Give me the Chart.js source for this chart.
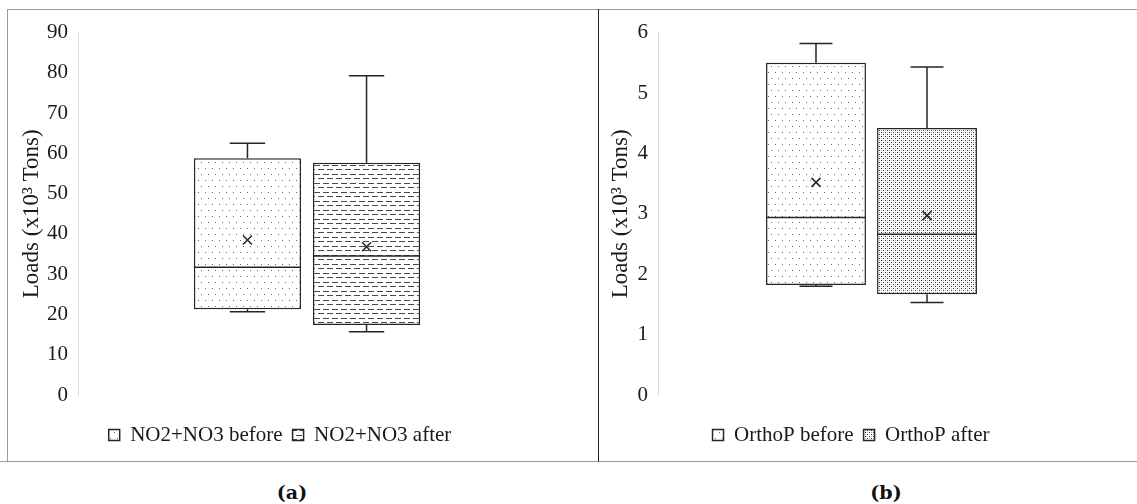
<!DOCTYPE html>
<html>
<head>
<meta charset="utf-8">
<script src="https://cdn.jsdelivr.net/npm/chart.js@4.4.0/dist/chart.umd.min.js"></script>
<style>
  html, body { margin: 0; padding: 0; background: #fff; }
  body { width: 1137px; height: 504px; position: relative; overflow: hidden; }
  canvas { position: absolute; }
  .line { position: absolute; }
  .cap { position: absolute; font-family: "DejaVu Serif", "Liberation Serif", serif; font-weight: bold; font-size: 19px; color: #111; transform: translate(-50%, -50%); white-space: nowrap; }
</style>
</head>
<body>
<div class="line" style="left:7px; top:9px; width:1130px; height:1px; background:#9a9a9a;"></div>
<div class="line" style="left:7px; top:9px; width:1px; height:453px; background:#9a9a9a;"></div>
<div class="line" style="left:0px; top:461px; width:1137px; height:1px; background:#9a9a9a;"></div>
<div class="line" style="left:598px; top:9px; width:1px; height:453px; background:#222;"></div>
<canvas id="chartA" width="590" height="451" style="left:8px; top:10px; width:590px; height:451px;"></canvas>
<canvas id="chartB" width="538" height="451" style="left:599px; top:10px; width:538px; height:451px;"></canvas>
<div class="cap" style="left:292px; top:492px;">(<span>a</span>)</div>
<div class="cap" style="left:886px; top:492px;">(<span>b</span>)</div>
<script>
// ---- Data ----
const seriesA = ['NO2+NO3 before', 'NO2+NO3 after'];
const minA  = [20.7, 15.7];
const q1A   = [21.3, 17.4];
const medA  = [31.7, 34.5];
const q3A   = [58.8, 57.7];
const maxA  = [62.5, 79.3];
const meanA = [38.5, 36.8];
const ticksA = [0, 10, 20, 30, 40, 50, 60, 70, 80, 90];

const seriesB = ['OrthoP before', 'OrthoP after'];
const minB  = [1.80, 1.53];
const q1B   = [1.82, 1.67];
const medB  = [2.94, 2.66];
const q3B   = [5.50, 4.42];
const maxB  = [5.82, 5.43];
const meanB = [3.52, 2.97];
const ticksB = [0, 1, 2, 3, 4, 5, 6];

const yTitle = 'Loads (x10\u00B3 Tons)';

// ---- Patterns ----
function makePattern(kind) {
  const c = document.createElement('canvas');
  const g = c.getContext('2d');
  if (kind === 'dots') {
    c.width = 7; c.height = 12;
    g.fillStyle = '#fff'; g.fillRect(0, 0, 7, 12);
    g.fillStyle = '#6a6a6a';
    g.fillRect(1, 2, 1, 1);
    g.fillRect(4, 8, 1, 1);
  } else if (kind === 'dashes') {
    c.width = 9; c.height = 9;
    g.fillStyle = '#fff'; g.fillRect(0, 0, 9, 9);
    g.fillStyle = '#4a4a4a';
    g.fillRect(0, 2, 6, 1);
    g.fillRect(4, 6, 5, 1);
    g.fillRect(0, 6, 1, 1);
  } else if (kind === 'dense') {
    c.width = 4; c.height = 4;
    g.fillStyle = '#fff'; g.fillRect(0, 0, 4, 4);
    g.fillStyle = '#3a3a3a';
    g.fillRect(0, 0, 1, 1);
    g.fillRect(2, 2, 1, 1);
    g.fillStyle = '#b8b8b8';
    g.fillRect(2, 0, 1, 1);
    g.fillRect(0, 2, 1, 1);
  }
  return g.createPattern(c, 'repeat');
}

const INK = '#262626';
const FONT = 'Liberation Serif';

// ---- Box plot extras: whiskers, medians, means drawn through the scales ----
const boxExtras = {
  id: 'boxExtras',
  afterDatasetsDraw(chart) {
    const st = chart.options.plugins.boxExtras;
    const y = chart.scales.y;
    const ctx = chart.ctx;
    ctx.save();
    ctx.strokeStyle = INK;
    ctx.lineWidth = 1.5;
    chart.data.datasets.forEach((ds, i) => {
      const bar = chart.getDatasetMeta(i).data[0];
      const x = bar.x, w = bar.width;
      const left = x - w / 2, right = x + w / 2;
      const yMin = y.getPixelForValue(st.min[i]);
      const yQ1 = y.getPixelForValue(st.q1[i]);
      const yMed = y.getPixelForValue(st.med[i]);
      const yQ3 = y.getPixelForValue(st.q3[i]);
      const yMax = y.getPixelForValue(st.max[i]);
      const yMean = y.getPixelForValue(st.mean[i]);
      const cap = w * 0.165;
      ctx.beginPath();
      ctx.moveTo(x, yQ3); ctx.lineTo(x, yMax);
      ctx.moveTo(x - cap, yMax); ctx.lineTo(x + cap, yMax);
      ctx.moveTo(x, yQ1); ctx.lineTo(x, yMin);
      ctx.moveTo(x - cap, yMin); ctx.lineTo(x + cap, yMin);
      ctx.moveTo(left, yMed); ctx.lineTo(right, yMed);
      ctx.stroke();
      const m = 4.5;
      ctx.beginPath();
      ctx.moveTo(x - m, yMean - m); ctx.lineTo(x + m, yMean + m);
      ctx.moveTo(x - m, yMean + m); ctx.lineTo(x + m, yMean - m);
      ctx.stroke();
    });
    ctx.restore();
  }
};

function buildChart(id, series, mins, q1s, meds, q3s, maxs, means, ticks, patterns, lay) {
  const datasets = series.map((name, i) => ({
    label: name,
    data: [[q1s[i], q3s[i]]],
    backgroundColor: patterns[i],
    borderColor: INK,
    borderWidth: 1.5,
    borderSkipped: false,
    categoryPercentage: 0.52,
    barPercentage: 0.9
  }));
  return new Chart(document.getElementById(id), {
    type: 'bar',
    data: { labels: [''], datasets },
    options: {
      responsive: false,
      animation: false,
      events: [],
      layout: { padding: { left: lay.L, right: lay.R, top: 22, bottom: 5.5 } },
      scales: {
        x: {
          type: 'category',
          offset: true,
          grid: { display: false, drawTicks: false },
          border: { display: false },
          ticks: { display: false },
          afterFit(s) { s.height = 19.5; }
        },
        y: {
          min: ticks[0],
          max: ticks[ticks.length - 1],
          afterBuildTicks(s) { s.ticks = ticks.map(v => ({ value: v })); },
          grid: { display: false, drawTicks: false },
          border: { display: true, color: '#d9d9d9', width: 1 },
          ticks: { padding: 10, color: '#1a1a1a', font: { family: FONT, size: 21 } },
          title: {
            display: true,
            text: yTitle,
            color: '#1a1a1a',
            font: { family: FONT, size: 23 },
            padding: { top: lay.tp, bottom: 0 }
          },
          afterFit(s) { s.width = lay.yw; }
        }
      },
      plugins: {
        tooltip: { enabled: false },
        legend: {
          position: 'bottom',
          labels: {
            color: '#1a1a1a',
            font: { family: FONT, size: 21 },
            boxWidth: 11,
            boxHeight: 11,
            padding: 10
          }
        },
        boxExtras: { min: mins, q1: q1s, med: meds, q3: q3s, max: maxs, mean: means }
      }
    },
    plugins: [boxExtras]
  });
}

buildChart('chartA', seriesA, minA, q1A, medA, q3A, maxA, meanA, ticksA,
  [makePattern('dots'), makePattern('dashes')],
  { L: 16, R: 62, yw: 54, tp: -6 });

buildChart('chartB', seriesB, minB, q1B, medB, q3B, maxB, meanB, ticksB,
  [makePattern('dots'), makePattern('dense')],
  { L: 18, R: 52, yw: 41, tp: -9.5 });
</script>
</body>
</html>
